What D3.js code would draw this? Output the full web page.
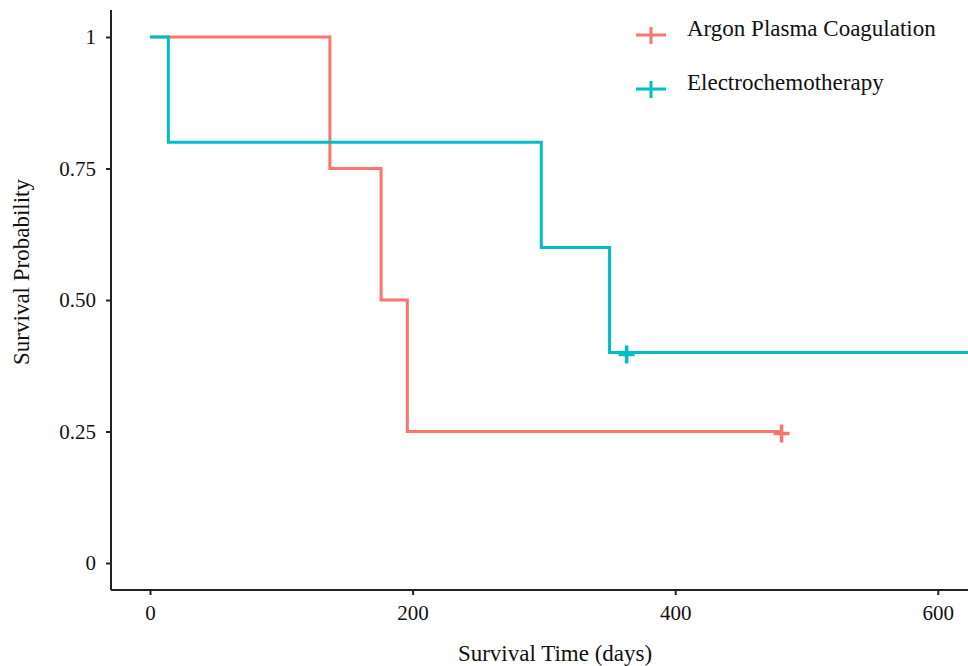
<!DOCTYPE html>
<html>
<head>
<meta charset="utf-8">
<script src="https://cdn.jsdelivr.net/npm/d3@7"></script>
<style>
  body { margin: 0; background: #fff; }
  text { font-family: "Liberation Serif", "Times New Roman", serif; }
</style>
</head>
<body>
<svg id="chart" width="968" height="666"></svg>
<script>
// Kaplan-Meier steps (time in days, survival)
var apcTimes = [0, 137, 176, 196, 481];
var apcSurv = [1, 0.75, 0.5, 0.25, 0.25];
var apcCensor = [481];

var ectTimes = [0, 14, 298, 350, 630];
var ectSurv = [1, 0.8, 0.6, 0.4, 0.4];
var ectCensor = [363];

var groups = ['Argon Plasma Coagulation', 'Electrochemotherapy'];
var colors = ['#F8766D', '#00BFC4'];
var xTicks = [0, 200, 400, 600];
var yTicks = [0, 0.25, 0.5, 0.75, 1];
var yTickLabels = ['0', '0.25', '0.50', '0.75', '1'];

var svg = d3.select('#chart');
var mLeft = 111, mRight = 968, mTop = 10, mBottom = 590;

var x = d3.scaleLinear().domain([-29.7, 623]).range([mLeft, mRight]);
var y = d3.scaleLinear().domain([-0.0513, 1.0513]).range([mBottom, mTop]);

// clip so curves stop at the panel edge
svg.append('clipPath').attr('id', 'clip')
  .append('rect').attr('x', mLeft).attr('y', 0).attr('width', mRight - mLeft).attr('height', mBottom);

function stepData(times, surv) {
  return times.map(function(t, i) { return {t: t, s: surv[i]}; });
}

var line = d3.line()
  .x(function(d) { return x(d.t); })
  .y(function(d) { return y(d.s); })
  .curve(d3.curveStepAfter);

var series = [
  {data: stepData(apcTimes, apcSurv), censor: apcCensor, times: apcTimes, surv: apcSurv},
  {data: stepData(ectTimes, ectSurv), censor: ectCensor, times: ectTimes, surv: ectSurv}
];

// red first, teal on top (teal shows at the very start)
[0, 1].forEach(function(i) {
  var s = series[i];
  svg.append('path')
    .attr('clip-path', 'url(#clip)')
    .attr('d', line(s.data))
    .attr('fill', 'none')
    .attr('stroke', colors[i])
    .attr('stroke-width', 3);

  s.censor.forEach(function(c) {
    var idx = d3.bisectRight(s.times, c) - 1;
    var cx = x(c), cy = y(s.surv[idx]);
    svg.append('path')
      .attr('d', 'M' + (cx - 8) + ',' + (cy + 2) + 'H' + (cx + 8) + 'M' + cx + ',' + (cy - 7) + 'V' + (cy + 11))
      .attr('stroke', colors[i])
      .attr('stroke-width', 3.5)
      .attr('fill', 'none');
  });
});

// axes
var xAxis = d3.axisBottom(x).tickValues(xTicks).tickSize(5).tickPadding(10).tickSizeOuter(0);
var gx = svg.append('g').attr('transform', 'translate(0,' + mBottom + ')').call(xAxis);
gx.select('.domain').attr('stroke', '#222').attr('stroke-width', 2).attr('d', 'M' + mLeft + ',0H' + mRight);
gx.selectAll('.tick line').attr('stroke', '#222').attr('stroke-width', 2);
gx.selectAll('.tick text').attr('font-size', 21).attr('fill', '#111')
  .style('font-family', '"Liberation Serif", serif');

var yAxis = d3.axisLeft(y).tickValues(yTicks)
  .tickFormat(function(d, i) { return yTickLabels[i]; })
  .tickSize(5).tickPadding(10).tickSizeOuter(0);
var gy = svg.append('g').attr('transform', 'translate(' + mLeft + ',0)').call(yAxis);
gy.select('.domain').attr('stroke', '#222').attr('stroke-width', 2).attr('d', 'M0,' + mTop + 'V' + mBottom);
gy.selectAll('.tick line').attr('stroke', '#222').attr('stroke-width', 2);
gy.selectAll('.tick text').attr('font-size', 21).attr('fill', '#111')
  .style('font-family', '"Liberation Serif", serif');

// axis titles
svg.append('text')
  .attr('x', 555).attr('y', 661)
  .attr('text-anchor', 'middle')
  .attr('font-size', 23).attr('fill', '#111')
  .text('Survival Time (days)');

svg.append('text')
  .attr('transform', 'translate(29,' + 272 + ') rotate(-90)')
  .attr('text-anchor', 'middle')
  .attr('font-size', 23).attr('fill', '#111')
  .text('Survival Probability');

// legend
groups.forEach(function(g, i) {
  var ly = 35 + i * 54;
  var lg = svg.append('g').attr('transform', 'translate(651,' + ly + ')');
  lg.append('path')
    .attr('d', 'M-15,0H15M0,-8V9')
    .attr('stroke', colors[i]).attr('stroke-width', 3);
  lg.append('text')
    .attr('x', 36).attr('y', 0).attr('dy', '0.05em')
    .attr('font-size', 23).attr('fill', '#111')
    .text(g);
});
</script>
</body>
</html>
